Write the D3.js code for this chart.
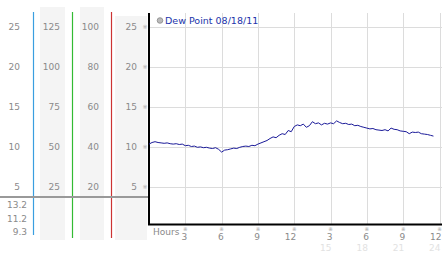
<!DOCTYPE html>
<html><head><meta charset="utf-8">
<script src="https://cdn.jsdelivr.net/npm/d3@7"></script>
<style>html,body{margin:0;padding:0;background:#fff;}svg{display:block;font-family:"DejaVu Sans",Verdana,sans-serif;}</style>
</head><body>
<svg id="c" width="442" height="253"></svg>
<script>
// ---- data ----
const hours = [
 0,0.25,0.5,0.75, 1,1.25,1.5,1.75, 2,2.25,2.5,2.75, 3,3.25,3.5,3.75,
 4,4.25,4.5,4.75, 5,5.25,5.5,5.75, 6,6.25,6.5,6.75, 7,7.25,7.5,7.75,
 8,8.25,8.5,8.75, 9,9.25,9.5,9.75, 10,10.25,10.5,10.75, 11,11.25,11.5,11.75,
 12,12.25,12.5,12.75, 13,13.25,13.5,13.75, 14,14.25,14.5,14.75, 15,15.25,15.5,15.75,
 16,16.25,16.5,16.75, 17,17.25,17.5,17.75, 18,18.25,18.5,18.75, 19,19.25,19.5,19.75,
 20,20.25,20.5,20.75, 21,21.25,21.5,21.75, 22,22.25,22.5,22.75, 23,23.25,23.5];
const dewPoint = [
 10.3,10.5,10.6,10.5, 10.45,10.4,10.45,10.35, 10.3,10.35,10.25,10.3, 10.1,10.15,10.0,10.05,
 9.9,9.95,9.85,9.9, 9.8,9.75,9.85,9.65, 9.3,9.55,9.6,9.7, 9.8,9.75,9.9,10.0,
 10.05,10.0,10.15,10.1, 10.3,10.45,10.6,10.75, 11.0,11.2,11.1,11.4, 11.6,11.5,12.0,11.85,
 12.5,12.7,12.6,12.8, 12.4,12.6,13.1,12.85, 12.95,12.7,12.9,12.8, 12.95,12.85,13.2,13.0,
 12.85,12.9,12.75,12.8, 12.6,12.65,12.5,12.4, 12.3,12.2,12.25,12.1, 12.05,12.0,12.1,11.95,
 12.3,12.15,12.1,11.95, 11.9,11.85,11.6,11.8, 11.75,11.8,11.6,11.55, 11.5,11.4,11.3];
const yTicks = [25,20,15,10,5];
const col2Labels = ["125","100","75","50","25"];
const col3Labels = ["100","80","60","40","20"];
const statLabels = ["13.2","11.2","9.3"];
const xTicks = [3,6,9,12,15,18,21,24];
const xTickLabels = ["3","6","9","12","3","6","9","12"];
const xTickLabels2 = ["","","","","15","18","21","24"];
const title = "Dew Point 08/18/11";

// ---- layout ----
const svg = d3.select("#c");
const x = d3.scaleLinear().domain([0,24]).range([149,439.5]);
const y = d3.scaleLinear().domain([5,25]).range([186.5,26.5]);
const txt = "#8a8a8a";

// left panel backgrounds
[[40,65,7],[80,104,7],[115,147,16]].forEach(([a,b,t])=>{
  svg.append("rect").attr("x",a).attr("y",t).attr("width",b-a).attr("height",240-t).attr("fill","#f4f4f4");
});

// gridlines
svg.append("g").selectAll("line").data(yTicks).join("line")
  .attr("x1",150).attr("x2",442).attr("y1",d=>Math.round(y(d))+0.5).attr("y2",d=>Math.round(y(d))+0.5)
  .attr("stroke","#dcdcdc").attr("stroke-width",1);
svg.append("g").selectAll("line").data(xTicks).join("line")
  .attr("y1",13).attr("y2",224).attr("x1",d=>Math.round(x(d))+0.5).attr("x2",d=>Math.round(x(d))+0.5)
  .attr("stroke","#dcdcdc").attr("stroke-width",1);

// column labels
const lab = (data, xe, fn) => svg.append("g").selectAll("text").data(data).join("text")
  .attr("x",xe).attr("y",(d,i)=>y(yTicks[i])+3.5).attr("text-anchor","end")
  .attr("font-size",9).attr("fill",txt).text(fn);
lab(yTicks,20,d=>d);
lab(col2Labels,60,d=>d);
lab(col3Labels,99,d=>d);
lab(yTicks,137,d=>d);
// small markers near y ticks
svg.append("g").selectAll("text").data(yTicks).join("text")
  .attr("x",145).attr("y",d=>y(d)+2.5).attr("text-anchor","middle")
  .attr("font-size",6).attr("fill","#aaa").text("※");

// stats
svg.append("g").selectAll("text").data(statLabels).join("text")
  .attr("x",27).attr("y",(d,i)=>208+i*13.5).attr("text-anchor","end")
  .attr("font-size",9).attr("fill",txt).text(d=>d);

// colored vertical lines
[[33.5,"#3a9ee0",235],[72.5,"#33bb33",238],[111.5,"#cc3333",238]].forEach(([xx,c,b])=>{
  svg.append("line").attr("x1",xx).attr("x2",xx).attr("y1",12).attr("y2",b).attr("stroke",c).attr("stroke-width",1.2);
});
// gray horizontal separator
svg.append("line").attr("x1",0).attr("x2",149).attr("y1",197).attr("y2",197).attr("stroke","#999").attr("stroke-width",2);

// axes lines
svg.append("line").attr("x1",149).attr("x2",149).attr("y1",13).attr("y2",225).attr("stroke","#000").attr("stroke-width",2);
svg.append("line").attr("x1",148).attr("x2",442).attr("y1",224.5).attr("y2",224.5).attr("stroke","#000").attr("stroke-width",2);

// x tick labels
svg.append("g").selectAll("text").data(xTicks).join("text")
  .attr("x",d=>x(d)).attr("y",230.5).attr("text-anchor","middle")
  .attr("font-size",5.5).attr("fill","#aaa").text("※");
svg.append("g").selectAll("text").data(xTicks).join("text")
  .attr("x",d=>x(d)+2).attr("y",240).attr("text-anchor","end")
  .attr("font-size",9).attr("fill",txt).text((d,i)=>xTickLabels[i]);
svg.append("g").selectAll("text").data(xTicks).join("text")
  .attr("x",d=>x(d)+1).attr("y",251).attr("text-anchor","end")
  .attr("font-size",9).attr("fill","#e2e2e2").text((d,i)=>xTickLabels2[i]);
svg.append("text").attr("x",153).attr("y",235).attr("font-size",9).attr("fill",txt).text("Hours");

// legend
svg.append("circle").attr("cx",160).attr("cy",20.5).attr("r",2.8).attr("fill","#bbb").attr("stroke","#888").attr("stroke-width",0.8);
svg.append("text").attr("x",165).attr("y",24).attr("font-size",9.5).attr("fill","#2233aa").text(title);

// line
const pts = hours.map((h,i)=>[h,dewPoint[i]]);
svg.append("path").datum(pts)
  .attr("d",d3.line().x(d=>x(d[0])).y(d=>y(d[1])))
  .attr("fill","none").attr("stroke","#1a1a99").attr("stroke-width",1);
</script>
</body></html>
